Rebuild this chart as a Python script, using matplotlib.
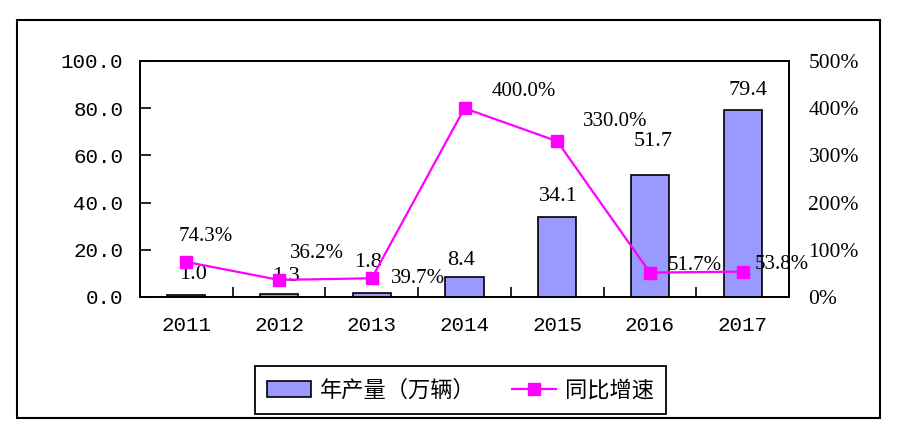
import matplotlib
matplotlib.use("Agg")
import matplotlib.pyplot as plt
from matplotlib.patches import Rectangle, Patch
from matplotlib.lines import Line2D
from matplotlib.ticker import FixedLocator, FuncFormatter

years = ["2011", "2012", "2013", "2014", "2015", "2016", "2017"]
production = [1.0, 1.3, 1.8, 8.4, 34.1, 51.7, 79.4]
growth = [74.3, 36.2, 39.7, 400.0, 330.0, 51.7, 53.8]
bar_name = "年产量（万辆）"
line_name = "同比增速"

# label offsets in pixels (dx, dy) relative to anchor point (y down positive in image)
bar_lbl_off = [(7, -20), (7, -17), (-4, -30), (-3, -17), (1, -20), (3, -33), (5, -19)]
line_lbl_off = [(19, -25), (38, -26), (46, 0), (59, -17), (58, -20), (45, -7), (39, -7)]

W, H = 900, 434
fig = plt.figure(figsize=(W / 100, H / 100), dpi=100)
fig.patch.set_facecolor("white")

# outer frame
fig.add_artist(Rectangle((17 / W, 1 - 418 / H), (880 - 17) / W, (418 - 20) / H,
                         transform=fig.transFigure, fill=False, edgecolor="black", lw=1.5))

ax = fig.add_axes([140 / W, 1 - 297 / H, (789 - 140) / W, (297 - 61) / H])
ax2 = ax.twinx()

x = list(range(len(years)))
bar_color = "#9999FF"
ax.bar(x, production, width=0.41, color=bar_color, edgecolor="black", lw=1.2, zorder=2)
ax.set_xlim(-0.5, len(years) - 0.5)
ax.set_ylim(0, 100)
ax.set_yticks([0, 20, 40, 60, 80, 100])
ax.yaxis.set_major_formatter(FuncFormatter(lambda v, p: f"{v:.1f}"))
ax.tick_params(axis="y", direction="in", length=8, width=1.2, pad=12,
               labelsize=15, labelfontfamily="Liberation Mono")
ax.set_xticks(x)
ax.set_xticklabels(years, fontfamily="Liberation Mono", fontsize=15)
ax.tick_params(axis="x", which="major", length=0, pad=14)
ax.xaxis.set_minor_locator(FixedLocator([i + 0.5 for i in range(len(years) - 1)]))
ax.tick_params(axis="x", which="minor", direction="in", length=7, width=1.2)
for s in ax.spines.values():
    s.set_linewidth(1.3)

ax2.set_ylim(0, 500)
ax2.set_yticks([0, 100, 200, 300, 400, 500])
ax2.yaxis.set_major_formatter(FuncFormatter(lambda v, p: f"{v:.0f}%"))
ax2.tick_params(axis="y", length=0, pad=14, labelsize=15.5, labelfontfamily="Liberation Serif")
for s in ax2.spines.values():
    s.set_linewidth(1.3)
ax2.plot(x, growth, color="#FF00FF", lw=1.6, marker="s", markersize=8,
         markerfacecolor="#FF00FF", markeredgecolor="#FF00FF", zorder=3)

px2pt = 72 / 100
for i, v in enumerate(production):
    dx, dy = bar_lbl_off[i]
    ax.annotate(f"{v:.1f}", (i, v), xytext=(dx * px2pt, -dy * px2pt), textcoords="offset points",
                ha="center", va="center", fontsize=16, fontfamily="Liberation Serif", zorder=5)
for i, v in enumerate(growth):
    dx, dy = line_lbl_off[i]
    ax2.annotate(f"{v:.1f}%", (i, v), xytext=(dx * px2pt, -dy * px2pt), textcoords="offset points",
                 ha="center", va="center", fontsize=15, fontfamily="Liberation Serif", zorder=5)

handles = [Patch(facecolor=bar_color, edgecolor="black", lw=1.2),
           Line2D([], [], color="#FF00FF", lw=1.6, marker="s", markersize=8)]
leg = fig.legend(handles, [bar_name, line_name], loc="center",
                 bbox_to_anchor=(460.5 / W, 1 - 390 / H), ncol=2, frameon=True,
                 fancybox=False, edgecolor="black", framealpha=1,
                 prop={"family": ["Noto Sans CJK SC", "DejaVu Sans"], "size": 16},
                 handlelength=2.0, handleheight=0.7, handletextpad=0.4, columnspacing=1.6,
                 borderpad=0.55, borderaxespad=0)
leg.get_frame().set_linewidth(1.3)

fig.savefig("out.png", dpi=100, facecolor="white")
